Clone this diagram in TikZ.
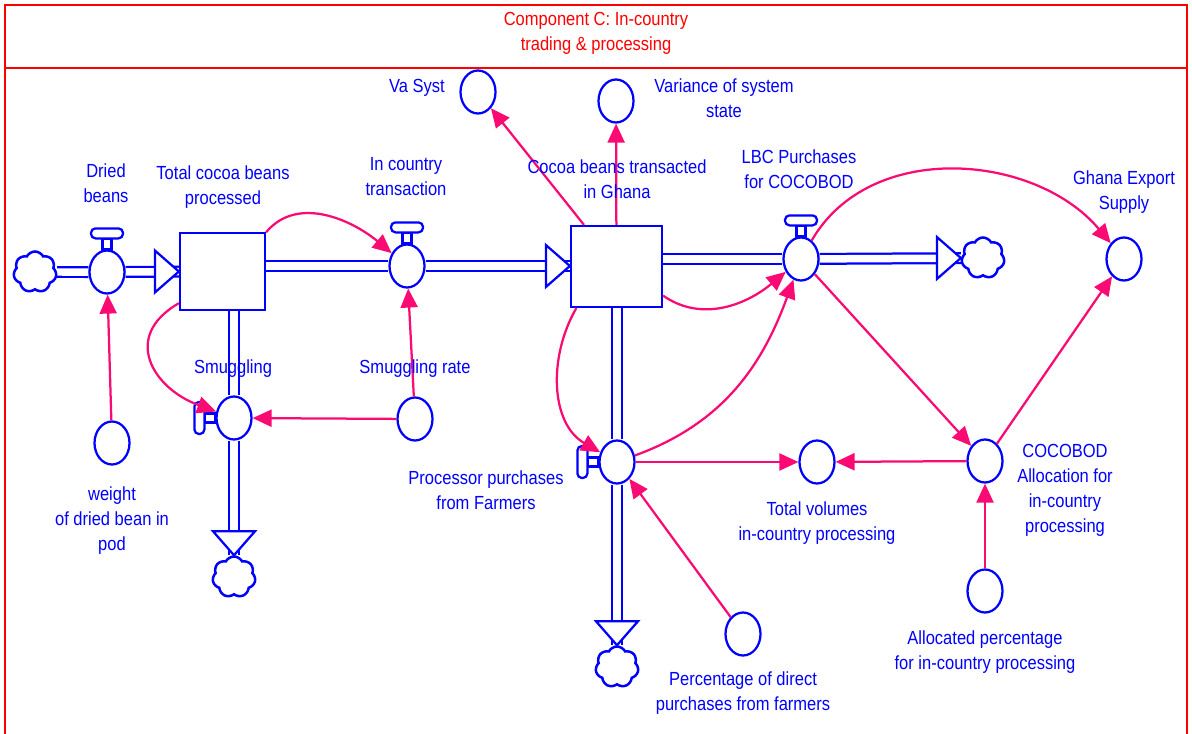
\documentclass[tikz,border=0pt]{standalone}
\usepackage{fontspec}
\setmainfont{Liberation Sans}[FakeStretch=0.87]
\usetikzlibrary{shapes.geometric,shapes.symbols,arrows.meta,backgrounds}
\definecolor{sdblue}{RGB}{0,0,255}
\definecolor{linkpink}{RGB}{250,10,115}
\definecolor{framered}{RGB}{255,0,0}
\tikzset{
  stock/.style={draw=sdblue,line width=0.045cm,fill=white,inner sep=0},
  aux/.style={ellipse,draw=sdblue,line width=0.045cm,fill=white,minimum width=0.7cm,minimum height=0.86cm,inner sep=0},
  sink/.style={cloud,cloud puffs=7,cloud puff arc=125,aspect=1.05,draw=sdblue,line width=0.05cm,minimum width=0.86cm,minimum height=0.82cm,inner sep=0},
  pipe/.style={draw=sdblue,line width=0.045cm,double=white,double distance=0.15cm},
  link/.style={linkpink,line width=0.045cm,-{Triangle[length=0.38cm,width=0.34cm]}},
  lbl/.style={text=sdblue,align=center,inner sep=0},
  flowhead/.pic={\draw[sdblue,line width=0.045cm,fill=white,line join=miter] (0,0) -- (-24,21) -- (-24,-21) -- cycle;},
  handle/.pic={
    \draw[sdblue,line width=0.045cm,fill=white] (-4.5,0) rectangle (4.5,11);
    \draw[sdblue,line width=0.045cm,fill=white,rounded corners=0.09cm] (-16,11) rectangle (16,21);}
}
\begin{document}
\begin{tikzpicture}[x=0.02cm,y=0.02cm,font=\fontsize{10.8}{14.2}\selectfont]
  \useasboundingbox (0,0) rectangle (1192,-733);
  \draw[framered,line width=0.045cm] (5,-750) -- (5,-5) -- (1187,-5) -- (1187,-750);
  \draw[framered,line width=0.045cm] (5,-68) -- (1187,-68);
  \node[text=framered,align=center] (title) at (596,-33) {Component C: In-country\\trading \& processing};

  \path
    (222.5,-271.5) node[stock,minimum width=1.7cm,minimum height=1.54cm] (s1){}
    (616.5,-266.5) node[stock,minimum width=1.82cm,minimum height=1.62cm] (s2){}
    (107,-272) node[aux] (v1){}
    (407,-266) node[aux] (v2){}
    (234,-418) node[aux] (v3){}
    (801,-259) node[aux] (v4){}
    (617,-462) node[aux] (v5){}
    (35,-272) node[sink] (c1){}
    (234,-577) node[sink] (c3){}
    (983,-258) node[sink] (c4){}
    (617,-667) node[sink] (c5){}
    (112,-443) node[aux] (w){}
    (415,-419) node[aux] (sr){}
    (478,-92) node[aux] (va){}
    (616,-101) node[aux] (var){}
    (1124,-259) node[aux] (ges){}
    (817,-462) node[aux] (tv){}
    (985,-461) node[aux] (cb){}
    (985,-591) node[aux] (ap){}
    (743,-634) node[aux] (pd){};

  \begin{scope}[on background layer]
    \draw[pipe] (c1) -- (v1);
    \draw[pipe] (v1) -- (s1);
    \draw[pipe] (s1.east |- v2) -- (v2);
    \draw[pipe] (v2) -- (s2.west |- v2);
    \draw[pipe] (s1.south -| v3) -- (v3);
    \draw[pipe] (v3) -- (c3);
    \draw[pipe] (s2.east |- v4) -- (v4);
    \draw[pipe] (v4) -- (c4);
    \draw[pipe] (s2.south -| v5) -- (v5);
    \draw[pipe] (v5) -- (c5);
  \end{scope}
  \pic at (s1.west) {flowhead};
  \pic at (s2.west |- v2) {flowhead};
  \pic[rotate=-90] at (c3.north) {flowhead};
  \pic at (c4.west) {flowhead};
  \pic[rotate=-90] at (c5.north) {flowhead};
  \pic at (v1.north) {handle};
  \pic at (v2.north) {handle};
  \pic at (v4.north) {handle};
  \pic[rotate=90] at (v3.west) {handle};
  \pic[rotate=90] at (v5.west) {handle};

  \begin{scope}[link]
    \draw (w) -- (v1);
    \draw (s1.42) to[out=50,in=140] (v2);
    \draw (s1.216) to[out=210,in=160,looseness=1.5] (v3);
    \draw (sr) -- (v3);
    \draw (sr) -- (v2);
    \draw (s2.128) -- (va);
    \draw (s2) -- (var);
    \draw (s2.-32) to[out=-35,in=220] (v4);
    \draw (v5) to[out=20,in=250] (v4);
    \draw (s2.226) to[out=240,in=150] (v5);
    \draw (v5) -- (tv);
    \draw (cb) -- (tv);
    \draw (v4) -- (cb);
    \draw (v4) to[out=60,in=130] (ges);
    \draw (cb) -- (ges);
    \draw (ap) -- (cb);
    \draw (pd) -- (v5);
  \end{scope}

  \path[lbl]
    (106,-183) node (l-v1){Dried\\beans}
    (223,-187) node (l-s1){Total cocoa beans\\processed}
    (406,-177) node (l-v2){In country\\transaction}
    (233,-369) node (l-v3){Smuggling}
    (415,-369) node (l-sr){Smuggling rate}
    (112,-521) node (l-w){weight\\of dried bean in\\pod}
    (417,-88) node (l-va){Va Syst}
    (724,-98) node (l-var){Variance of system\\state}
    (617,-179) node (l-s2){Cocoa beans transacted\\in Ghana}
    (799,-169) node (l-v4){LBC Purchases\\for COCOBOD}
    (1124,-192) node (l-ges){Ghana Export\\Supply}
    (486,-490) node (l-v5){Processor purchases\\from Farmers}
    (817,-523) node (l-tv){Total volumes\\in-country processing}
    (1065,-490) node (l-cb){COCOBOD\\Allocation for\\in-country\\processing}
    (985,-652) node (l-ap){Allocated percentage\\for in-country processing}
    (743,-693) node (l-pd){Percentage of direct\\purchases from farmers};
\end{tikzpicture}
\end{document}
